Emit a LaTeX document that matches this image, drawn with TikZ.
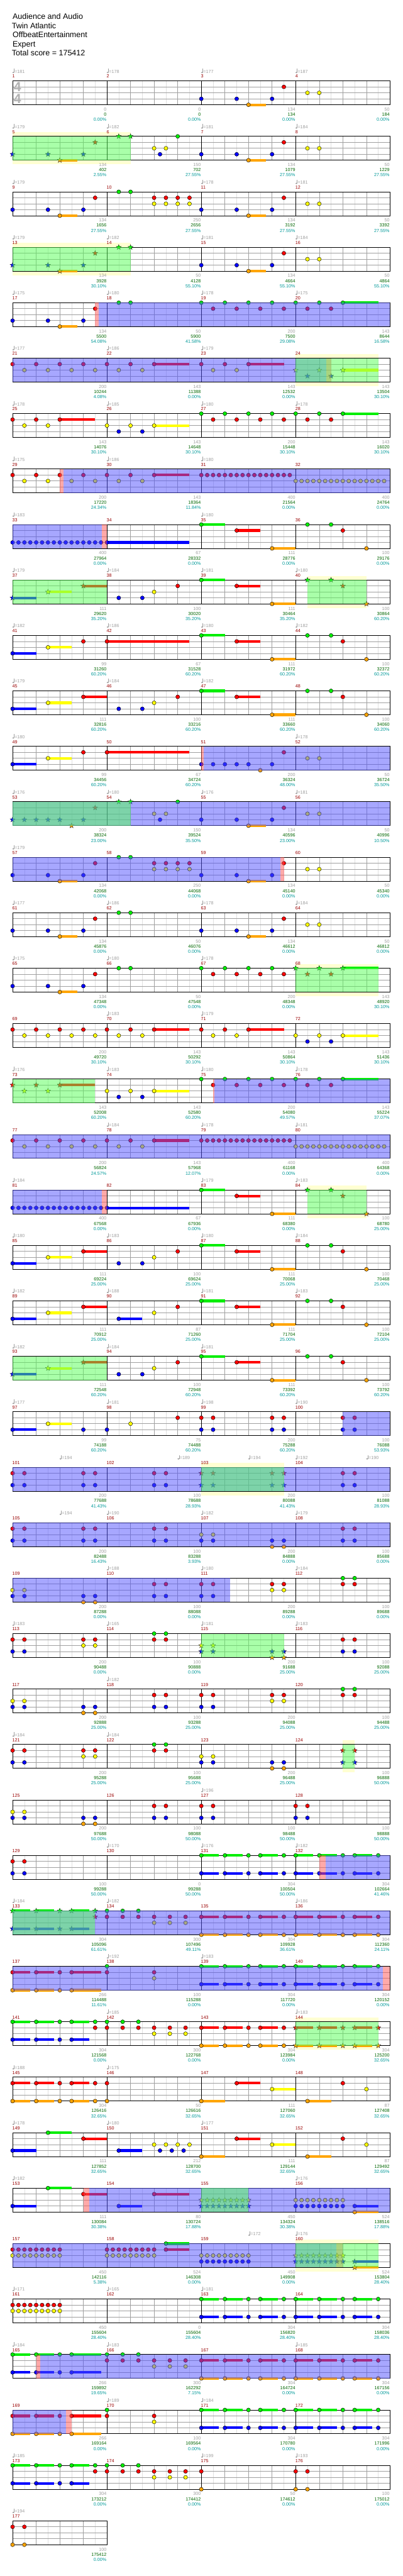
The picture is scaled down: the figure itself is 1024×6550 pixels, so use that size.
\documentclass[tikz,border=0pt]{standalone}
\usepackage{fontspec}
\setmainfont{Liberation Sans}
\usepackage{xcolor}
\definecolor{cg}{HTML}{00EE00}
\definecolor{cr}{HTML}{FF0000}
\definecolor{cy}{HTML}{FFFF00}
\definecolor{cb}{HTML}{0000FF}
\definecolor{co}{HTML}{FFA500}
\definecolor{cSP}{HTML}{5050FF}
\definecolor{cPh}{HTML}{55FF55}
\definecolor{cPk}{HTML}{FF5555}
\definecolor{cBand}{HTML}{FFFFD2}
\definecolor{cTxt}{HTML}{A0A0A0}
\definecolor{cMeas}{HTML}{990000}
\definecolor{cSum}{HTML}{006600}
\definecolor{cPct}{HTML}{009999}
\definecolor{cEighth}{HTML}{E0E0E0}
\definecolor{cQuarter}{HTML}{A0A0A0}
\definecolor{cLane}{HTML}{A0A0A0}
\def\lyg{0}\def\lyr{15.17}\def\lyy{30.35}\def\lyb{45.52}\def\lyo{60.7}
\tikzset{
  chartrow/.style={shift={(0,{205.7+141*#1})}},
  eighthln/.style={draw=cEighth,line width=.8},
  quarterln/.style={draw=cQuarter,line width=.8},
  laneln/.style={draw=cLane,line width=1.1},
  measln/.style={draw=black,line width=.9},
  staffborder/.style={draw=black,line width=1.4},
  smallfont/.style={inner sep=0,font=\fontsize{11.5}{12}\selectfont},
  tempotxt/.style={smallfont,anchor=base west,text=cTxt},
  mnum/.style={smallfont,anchor=base west,text=cMeas},
  scoretxt/.style={smallfont,anchor=base east,text=cTxt},
  totaltxt/.style={smallfont,anchor=base east,text=cSum},
  pcttxt/.style={smallfont,anchor=base east,text=cPct},
  headtxt/.style={anchor=base west,inner sep=0,font=\fontsize{20}{24}\selectfont},
}
% staff with #1 measures
\newcommand\staff[1]{%
  \pgfmathsetmacro\sw{240*#1}\pgfmathtruncatemacro\ne{8*#1-1}
  \fill[white] (32,0) rectangle ({32+\sw},60.7);
  \foreach \i in {1,3,...,\ne}{\draw[eighthln] ({32+30*\i},0) -- ({32+30*\i},60.7);}
  \foreach \i in {2,4,...,\ne}{\draw[quarterln] ({32+30*\i},0) -- ({32+30*\i},60.7);}
  \foreach \yy in {15.17,30.35,45.52}{\draw[laneln] (32,\yy) -- ({32+\sw},\yy);}
  \ifnum#1>1 \foreach \i in {8,16,24}{\draw[measln] ({32+30*\i},0) -- ({32+30*\i},60.7);}\fi
  \draw[staffborder] (32,0) rectangle ({32+\sw},60.7);}
% notes, stars, sustains
\newcommand\notedot[2]{\filldraw[fill=c#2,draw=black,line width=.7] ({32+30*(#1)},\csname ly#2\endcsname) circle[radius=5];}
\newcommand\stardot[2]{\filldraw[fill=c#2,draw=black!85,line width=.6] ({32+30*(#1)},\csname ly#2\endcsname)
  +(-90:6.8) -- +(-54:2.9) -- +(-18:6.8) -- +(18:2.9) -- +(54:6.8) -- +(90:2.9) -- +(126:6.8) -- +(162:2.9) -- +(198:6.8) -- +(234:2.9) -- cycle;}
\newcommand\nts[1]{\foreach \pos/\lane in {#1}{\notedot{\pos}{\lane}}}
\newcommand\sts[1]{\foreach \pos/\lane in {#1}{\stardot{\pos}{\lane}}}
\newcommand\seqn[4]{\foreach \spos in {#1,#2,...,#3}{\notedot{\spos}{#4}}}
\newcommand\seqs[4]{\foreach \spos in {#1,#2,...,#3}{\stardot{\spos}{#4}}}
\newcommand\sus[1]{\foreach \pos/\qend/\lane in {#1}{\fill[c\lane] ({32+30*(\pos)},{\csname ly\lane\endcsname-3.3}) rectangle ({32+30*(\qend)},{\csname ly\lane\endcsname+3.3});}}
\newcommand\patA[2]{\sus{#1/#1+1.5/#2,#1+2/#1+3.5/#2,#1+5/#1+6.5/#2}\nts{#1/#2,#1+2/#2,#1+4/#2,#1+5/#2,#1+7/#2}}
% overlays
\newcommand\spov[2]{\fill[cSP,opacity=.5] ({32+30*(#1)},0) rectangle ({32+30*(#2)},60.7);}
\newcommand\grov[2]{\fill[cPh,opacity=.5] ({32+30*(#1)},0) rectangle ({32+30*(#2)},60.7);}
\newcommand\pkov[2]{\fill[cPk,opacity=.5] ({32+30*(#1)},0) rectangle ({32+30*(#2)},60.7);}
\newcommand\band[2]{\fill[cBand] ({32+30*(#1)},-10.7) rectangle ({32+30*(#2)},71.3);}
% tempos, measure numbers, scores
\newcommand\info[3]{%
  \foreach \pos/\bpm in {#2}{%
    \fill[cTxt] ({32+30*\pos+1.8},-21.3) ellipse[x radius=2.5,y radius=1.8];
    \draw[cTxt,line width=.8] ({32+30*\pos+3.9},-21.3) -- ({32+30*\pos+3.9},-31);
    \node[tempotxt] (tempo-#1-\pos) at ({32+30*\pos+5},-20.2) {=\bpm};}
  \foreach \va/\vb/\vc [count=\j from 0] in {#3}{%
    \pgfmathtruncatemacro\mm{#1+\j}
    \node[mnum] (meas-\mm) at ({31+240*\j},-7.5) {\mm};
    \node[scoretxt] (pts-\mm) at ({31+240*(\j+1)},76.5) {\va};
    \node[totaltxt] (sum-\mm) at ({31+240*(\j+1)},89.5) {\vb};
    \node[pcttxt] (pct-\mm) at ({31+240*(\j+1)},102.5) {\vc\%};}}
\begin{document}
\begin{tikzpicture}[x=1pt,y=-1pt]
\useasboundingbox (0,0) rectangle (1024,6550);
\fill[white] (0,0) rectangle (1024,6550);
% header
\node[headtxt] (title) at (32,49.3) {Audience and Audio};
\node[headtxt] (artist) at (30,72.5) {Twin Atlantic};
\node[headtxt] (charter) at (32,95.7) {OffbeatEntertainment};
\node[headtxt] (level) at (32,118.9) {Expert};
\node[headtxt] (total) at (30,142.1) {Total score = 175412};
% m1-4
\begin{scope}[chartrow=0]
\staff{4}
\node[font=\bfseries\fontsize{34}{34}\selectfont,text=black!30,inner sep=0] (ts-top) at (44.5,14.8) {4};
\node[font=\bfseries\fontsize{34}{34}\selectfont,text=black!30,inner sep=0] (ts-bot) at (44.5,45.3) {4};
\sus{20/21.5/o}
\nts{16/b,19/b,20/o,22/b,23/r,25/y,26/y}
\info{1}{0/181,8/178,16/177,24/187}{0/0/0.00,0/0/0.00,134/134/0.00,50/184/0.00}
\end{scope}
% m5-8
\begin{scope}[chartrow=1]
\band{0}{10}\staff{4}
\sus{4/5.5/o,20/21.5/o}
\sts{0/b,3/b,4/o,6/b,7/r,9/g,10/g}
\nts{12/y,13/y,12.5/b,14/g,16/b,19/b,20/o,22/b,23/r,25/y,26/y}
\grov{0}{10}
\info{5}{0/179,8/182,16/181,24/184}{134/402/2.55,150/702/27.55,134/1079/27.55,50/1229/27.55}
\end{scope}
% m9-12
\begin{scope}[chartrow=2]
\staff{4}
\sus{4/5.5/o,20/21.5/o}
\nts{0/b,3/b,4/o,6/b,7/r,9/g,10/g,12/r,13/r,14/r,15/r,12/y,13/y,14/y,15/y,16/b,19/b,20/o,22/b,23/r,25/y,26/y}
\info{9}{0/179,16/178,24/181}{134/1656/27.55,250/2656/27.55,134/3192/27.55,50/3392/27.55}
\end{scope}
% m13-16
\begin{scope}[chartrow=3]
\band{0}{10}\staff{4}
\sus{4/5.5/o,20/21.5/o}
\sts{0/b,3/b,4/o,6/b,7/r,9/g,10/g}
\nts{16/b,19/b,20/o,22/b,23/r,25/y,26/y}
\grov{0}{10}
\info{13}{0/179,8/182,16/181,24/184}{134/3928/30.10,50/4128/55.10,134/4664/55.10,50/4864/55.10}
\end{scope}
% m17-20
\begin{scope}[chartrow=4]
\staff{4}
\sus{4/5.5/o,28/31/g}
\nts{0/b,3/b,4/o,6/b,7/r,9/g,10/g,16/g,18/g,20/g,22/g,24/g,26/g,28/g,17/r,19/r,21/r,23/r,25/r,27/r}
\pkov{7}{7.3}\spov{7.3}{32}
\info{17}{0/175,8/180,16/178,24/175}{134/5500/54.08,50/5900/41.58,200/7500/29.08,143/8644/16.58}
\end{scope}
% m21-24
\begin{scope}[chartrow=5]
\band{24}{31}\staff{4}
\sus{12/15/r,20/23/r,28/31/y}
\nts{0/r,2/r,4/r,6/r,8/r,10/r,12/r,16/r,18/r,20/r,1/y,3/y,5/y,7/y,9/y,11/y,17/y,19/y}
\sts{24/y,26/y,28/y,25/b,27/b}
\spov{0}{26.6}\pkov{26.6}{27}\grov{24}{31}
\info{21}{0/177,8/186,16/179}{200/10244/4.08,143/11388/0.00,143/12532/0.00,143/13504/30.10}
\end{scope}
% m25-28
\begin{scope}[chartrow=6]
\staff{4}
\sus{4/7/r,12/15/y,28/31/g}
\nts{0/r,2/r,4/r,1/y,3/y,8/y,10/y,12/y,9/b,11/b,16/g,18/g,20/g,22/g,24/g,26/g,28/g,17/r,19/r,21/r,23/r,25/r,27/r}
\info{25}{0/178,8/185,16/180,24/178}{143/14076/30.10,143/14648/30.10,200/15448/30.10,143/16020/30.10}
\end{scope}
% m29-32
\begin{scope}[chartrow=7]
\staff{4}
\sus{12/15/r}
\nts{0/r,2/r,4/r,1/y,3/y,5/y,7/y,9/y,11/y,6/r,8/r,10/r,12/r}
\seqn{16}{16.5}{23.5}{r}\seqn{24}{24.5}{31.5}{y}
\pkov{4}{4.3}\spov{4.3}{32}
\info{29}{0/175,8/186,16/180}{200/17220/24.34,143/18364/11.84,400/21564/0.00,400/24764/0.00}
\end{scope}
% m33-36
\begin{scope}[chartrow=8]
\staff{4}
\sus{8/15/b,16/18/g,19/21/r,22/24/o}
\seqn{0}{0.5}{7.5}{b}
\nts{8/b,16/g,19/r,22/o,25/g,27/g,28/r,30/o}
\spov{0}{7.56}\pkov{7.56}{8}
\info{33}{0/183,16/180}{400/27964/0.00,67/28332/0.00,111/28776/0.00,100/29176/0.00}
\end{scope}
% m37-40
\begin{scope}[chartrow=9]
\band{25}{30}\staff{4}
\sus{0/2/b,3/5/y,6/8/r,16/18/g,19/21/r,22/24/o}
\sts{0/b,3/y,6/r,25/g,27/g,28/r,30/o}
\nts{9/b,11/b,12/y,14/r,16/g,19/r,22/o}
\grov{0}{8}\grov{25}{30}
\info{37}{0/179,8/184,16/181,24/180}{111/29620/35.20,100/30020/35.20,111/30464/35.20,100/30864/60.20}
\end{scope}
% m41-44
\begin{scope}[chartrow=10]
\staff{4}
\sus{0/2/b,3/5/y,8/15/r,16/18/g,19/21/r,22/24/o}
\nts{0/b,3/y,6/r,8/r,16/g,19/r,22/o,25/g,27/g,28/r,30/o}
\info{41}{0/182,8/186,16/180,24/182}{99/31260/60.20,67/31528/60.20,111/31972/60.20,100/32372/60.20}
\end{scope}
% m45-48
\begin{scope}[chartrow=11]
\staff{4}
\sus{0/2/b,3/5/y,6/8/r,16/18/g,19/21/r,22/24/o}
\nts{0/b,3/y,6/r,9/b,11/b,12/y,14/r,16/g,19/r,22/o,25/g,27/g,28/r,30/o}
\info{45}{0/179,8/184,16/182}{111/32816/60.20,100/33216/60.20,111/33660/60.20,100/34060/60.20}
\end{scope}
% m49-52
\begin{scope}[chartrow=12]
\staff{4}
\sus{0/2/b,3/5/y,8/15/r}
\nts{0/b,3/y,6/r,8/r,16/b,17/b,18/b,19/b,20/b,22/b,21/o,23/r,25/y,26/y}
\pkov{16}{16.2}\spov{16.2}{32}
\info{49}{0/180,24/178}{99/34456/60.20,67/34724/60.20,200/36324/48.00,50/36724/35.50}
\end{scope}
% m53-56
\begin{scope}[chartrow=13]
\staff{4}
\sus{20/21.5/o}
\sts{0/b,1/b,2/b,3/b,4/b,6/b,5/o,7/r,9/g,10/g}
\nts{12/y,13/y,12.5/b,14/g,16/b,19/b,22/b,20/o,23/r,25/y,26/y}
\spov{0}{32}\grov{0}{10}
\info{53}{0/176,8/180,16/176,24/181}{200/38324/23.00,150/39524/35.50,134/40596/23.00,50/40996/10.50}
\end{scope}
% m57-60
\begin{scope}[chartrow=14]
\staff{4}
\sus{4/5.5/o,20/21.5/o}
\nts{0/b,3/b,4/o,6/b,7/r,9/g,10/g,12/r,13/r,14/r,15/r,12/y,13/y,14/y,15/y,16/b,19/b,20/o,22/b,23/r,25/y,26/y}
\spov{0}{22.72}\pkov{22.72}{23}
\info{57}{0/179}{134/42068/0.00,250/44068/0.00,134/45140/0.00,50/45340/0.00}
\end{scope}
% m61-64
\begin{scope}[chartrow=15]
\staff{4}
\sus{4/5.5/o,20/21.5/o}
\nts{0/b,3/b,4/o,6/b,7/r,9/g,10/g,16/b,19/b,20/o,22/b,23/r,25/y,26/y}
\info{61}{0/177,8/186,16/178,24/184}{134/45876/0.00,50/46076/0.00,134/46612/0.00,50/46812/0.00}
\end{scope}
% m65-68
\begin{scope}[chartrow=16]
\band{24}{31}\staff{4}
\sus{4/5.5/o,28/31/g}
\nts{0/b,3/b,4/o,6/b,7/r,9/g,10/g,16/g,18/g,20/g,22/g,17/r,19/r,21/r,23/r}
\sts{24/g,26/g,28/g,25/r,27/r}
\grov{24}{31}
\info{65}{0/175,8/180,16/178}{134/47348/0.00,50/47548/0.00,200/48348/0.00,143/48920/30.10}
\end{scope}
% m69-72
\begin{scope}[chartrow=17]
\staff{4}
\sus{12/15/r,20/23/r,28/31/y}
\nts{0/r,2/r,4/r,6/r,8/r,10/r,12/r,1/y,3/y,5/y,7/y,9/y,11/y,16/r,18/r,20/r,17/y,19/y,24/y,26/y,28/y,25/b,27/b}
\info{69}{8/183,16/179}{200/49720/30.10,143/50292/30.10,143/50864/30.10,143/51436/30.10}
\end{scope}
% m73-76
\begin{scope}[chartrow=18]
\staff{4}
\sus{4/7/r,12/15/y,28/31/g}
\sts{0/r,2/r,4/r,1/y,3/y}
\nts{8/y,10/y,12/y,9/b,11/b,16/g,17/r,18/g,20/g,22/g,24/g,26/g,28/g,19/r,21/r,23/r,25/r,27/r}
\grov{0}{7}\pkov{17}{17.13}\spov{17.13}{32}
\info{73}{0/176,8/183,16/180,24/178}{143/52008/60.20,143/52580/60.20,200/54080/49.57,143/55224/37.07}
\end{scope}
% m77-80
\begin{scope}[chartrow=19]
\staff{4}
\sus{12/15/r}
\nts{0/r,2/r,4/r,6/r,8/r,10/r,12/r,1/y,3/y,5/y,7/y,9/y,11/y}
\seqn{16}{16.5}{23.5}{r}\seqn{24}{24.5}{31.5}{y}
\spov{0}{32}
\info{77}{8/184,16/178,24/181}{200/56824/24.57,143/57968/12.07,400/61168/0.00,400/64368/0.00}
\end{scope}
% m81-84
\begin{scope}[chartrow=20]
\band{25}{30}\staff{4}
\sus{8/15/b,16/18/g,19/21/r,22/24/o}
\seqn{0}{0.5}{7.5}{b}
\nts{8/b,16/g,19/r,22/o}
\sts{25/g,27/g,28/r,30/o}
\spov{0}{7.56}\pkov{7.56}{8}\grov{25}{30}
\info{81}{0/184,16/179,24/183}{400/67568/0.00,67/67936/0.00,111/68380/0.00,100/68780/25.00}
\end{scope}
% m85-88
\begin{scope}[chartrow=21]
\staff{4}
\sus{0/2/b,3/5/y,6/8/r,16/18/g,19/21/r,22/24/o}
\nts{0/b,3/y,6/r,9/b,11/b,12/y,14/r,16/g,19/r,22/o,25/g,27/g,28/r,30/o}
\info{85}{0/180,8/183,16/180,24/184}{111/69224/25.00,100/69624/25.00,111/70068/25.00,100/70468/25.00}
\end{scope}
% m89-92
\begin{scope}[chartrow=22]
\staff{4}
\sus{0/2/b,3/5/y,6/8/r,9/11/b,16/18/g,19/21/r,22/24/o}
\nts{0/b,3/y,6/r,9/b,12/y,14/r,16/g,19/r,22/o,25/g,27/g,28/r,30/o}
\info{89}{0/182,8/188,16/181,24/183}{111/70912/25.00,87/71260/25.00,111/71704/25.00,100/72104/25.00}
\end{scope}
% m93-96
\begin{scope}[chartrow=23]
\staff{4}
\sus{0/2/b,3/5/y,6/8/r,16/18/g,19/21/r,22/24/o}
\sts{0/b,3/y,6/r}
\nts{9/b,11/b,12/y,14/r,16/g,19/r,22/o,25/g,27/g,28/r,30/o}
\grov{0}{8}
\info{93}{0/182,8/184,16/181}{111/72548/60.20,100/72948/60.20,111/73392/60.20,100/73792/60.20}
\end{scope}
% m97-100
\begin{scope}[chartrow=24]
\staff{4}
\sus{0/2/b,3/5/y}
\nts{0/b,3/y,6/b,8/b,10/y,14/r,16/r,17/r,16/b,17/b,22/r,23/r,22/b,23/b,28/r,29/r,28/b,29/b}
\spov{28}{32}
\info{97}{0/177,8/181,16/198,24/190}{99/74188/60.20,75/74488/60.20,200/75288/60.20,100/76088/53.93}
\end{scope}
% m101-104
\begin{scope}[chartrow=25]
\band{16}{23}\staff{4}
\nts{0/r,1/r,6/r,7/r,12/r,13/r,28/r,29/r,0/b,1/b,6/b,7/b,12/b,13/b,28/b,29/b}
\sts{16/r,17/r,22/r,23/r,16/b,17/b,22/b,23/b}
\spov{0}{32}\grov{16}{23}
\info{101}{4/194,14/189,20/194,24/192,30/190}{200/77688/41.43,100/78688/28.93,200/80088/41.43,100/81088/28.93}
\end{scope}
% m105-108
\begin{scope}[chartrow=26]
\staff{4}
\nts{0/r,1/r,6/r,7/r,12/r,13/r,28/r,29/r,0/b,1/b,6/b,7/b,12/b,13/b,16/b,17/b,22/b,23/b,28/b,29/b,16/y,17/y,22/o,23/o}
\spov{0}{32}
\info{105}{4/194,8/190,16/182,24/179}{200/82488/16.43,100/83288/3.93,200/84888/0.00,100/85688/0.00}
\end{scope}
% m109-112
\begin{scope}[chartrow=27]
\staff{4}
\nts{0/y,1/y,0/b,1/b,6/b,7/b,6/o,7/o,12/r,13/r,12/b,13/b,16/r,17/r,16/b,17/b,22/r,23/r,22/y,23/y,28/g,29/g,28/r,29/r}
\spov{0}{18.46}
\info{109}{8/188,16/180,24/184}{200/87288/0.00,100/88088/0.00,200/89288/0.00,100/89688/0.00}
\end{scope}
% m113-116
\begin{scope}[chartrow=28]
\staff{4}
\nts{0/r,1/r,0/b,1/b,6/r,7/r,6/y,7/y,12/g,13/g,12/r,13/r,28/r,29/r,28/b,29/b}
\sts{16/y,17/y,16/b,17/b,22/b,23/b,22/o,23/o}
\grov{16}{23}
\info{113}{0/183,8/165,16/181,24/183}{200/90488/0.00,100/90888/0.00,200/91688/25.00,100/92088/25.00}
\end{scope}
% m117-120
\begin{scope}[chartrow=29]
\staff{4}
\nts{0/y,1/y,0/b,1/b,6/b,7/b,6/o,7/o,12/r,13/r,12/b,13/b,16/r,17/r,16/b,17/b,22/r,23/r,22/y,23/y,28/g,29/g,28/r,29/r}
\info{117}{8/182}{200/92888/25.00,100/93288/25.00,200/94088/25.00,100/94488/25.00}
\end{scope}
% m121-124
\begin{scope}[chartrow=30]
\band{28}{29}\staff{4}
\nts{0/r,1/r,0/b,1/b,6/r,7/r,6/y,7/y,12/g,13/g,12/r,13/r,16/y,17/y,16/b,17/b,22/b,23/b,22/o,23/o}
\sts{28/r,29/r,28/b,29/b}
\grov{28}{29}
\info{121}{0/184,8/184}{200/95288/25.00,100/95688/25.00,200/96488/25.00,100/96888/50.00}
\end{scope}
% m125-128
\begin{scope}[chartrow=31]
\staff{4}
\nts{0/y,1/y,0/b,1/b,6/b,7/b,6/o,7/o,12/r,13/r,12/b,13/b,16/r,17/r,16/b,17/b,24/r,25/r,24/b,25/b}
\info{125}{16/196}{200/97688/50.00,100/98088/50.00,100/98488/50.00,100/98888/50.00}
\end{scope}
% m129-132
\begin{scope}[chartrow=32]
\staff{4}
\nts{0/r,1/r,0/b,1/b}
\patA{16}{g}\patA{24}{g}\patA{16}{b}\patA{24}{b}
\pkov{26}{26.53}\spov{26.53}{32}
\info{129}{8/170,16/176,24/182}{100/99288/50.00,0/99288/50.00,304/100504/50.00,304/102664/41.46}
\end{scope}
% m133-136
\begin{scope}[chartrow=33]
\staff{4}
\sus{0/1.5/g,2/3.5/g,5/6.5/g,0/1.5/b,2/3.5/b,5/6.5/b}
\sts{0/g,2/g,4/g,5/g,7/g,0/b,2/b,4/b,5/b,7/r}
\nts{8/g,9.333/g,10.667/g,8/r,9.333/r,10.667/r,12/r,13.333/r,14.667/r,12/y,13.333/y,14.667/y}
\patA{16}{r}\patA{24}{r}\patA{16}{o}\patA{24}{o}
\spov{0}{32}\grov{0}{7}
\info{133}{0/184,8/182,24/186}{304/105096/61.61,300/107496/49.11,304/109928/36.61,304/112360/24.11}
\end{scope}
% m137-140
\begin{scope}[chartrow=34]
\staff{4}
\sus{0/1.5/r,2/3.5/r,5/7.5/r,0/1.5/o,2/3.5/o,5/7.5/o}
\nts{0/r,2/r,4/r,5/r,0/o,2/o,4/o,5/o,8/g,8/r,12/r,12/y}
\patA{16}{g}\patA{24}{g}\patA{16}{b}\patA{24}{b}
\spov{0}{31.4}\pkov{31.4}{32}
\info{137}{8/192,16/183}{266/114488/11.61,100/115288/0.00,304/117720/0.00,304/120152/0.00}
\end{scope}
% m141-144
\begin{scope}[chartrow=35]
\band{24}{31}\staff{4}
\sus{0/1.5/g,2/3.5/g,5/6.5/g,0/1.5/b,2/3.5/b,5/6.5/b}
\nts{0/g,2/g,4/g,5/g,7/g,8/g,9.333/g,10.667/g,0/b,2/b,4/b,5/b,7/r,8/r,9.333/r,10.667/r,12/r,13.333/r,14.667/r,12/y,13.333/y,14.667/y}
\patA{16}{r}\patA{16}{o}
\sus{24/25.5/r,26/27.5/r,29/30.5/r,24/25.5/o,26/27.5/o,29/30.5/o}
\sts{24/r,26/r,28/r,29/r,31/r,24/o,26/o,28/o,29/o,31/o}
\grov{24}{31}
\info{141}{8/185,24/183}{304/121568/0.00,300/122768/0.00,304/123984/0.00,304/125200/32.65}
\end{scope}
% m145-148
\begin{scope}[chartrow=36]
\staff{4}
\sus{0/1.5/r,2/3.5/r,5/6.5/r,0/1.5/o,2/3.5/o,5/6.5/o,16/18/o,19/21/r,22/24/y,25/27/o}
\nts{0/r,2/r,4/r,5/r,7/r,8/r,0/o,2/o,4/o,5/o,7/o,8/o,16/o,19/r,22/y,25/o,28/r,30/y}
\info{145}{0/188,8/175}{304/126416/32.65,50/126616/32.65,111/127060/32.65,87/127408/32.65}
\end{scope}
% m149-152
\begin{scope}[chartrow=37]
\staff{4}
\sus{0/2/b,3/5/g,6/8/r,9/11/b,16/18/o,19/21/r,22/24/y,25/27/o}
\nts{0/b,3/g,6/r,9/b,12/y,13/y,14/y,15/y,12.5/b,13.5/b,14.5/b,16/o,19/r,22/y,25/o,28/r,30/y}
\info{149}{0/178,8/180,16/177}{111/127852/32.65,212/128700/32.65,111/129144/32.65,87/129492/32.65}
\end{scope}
% m153-156
\begin{scope}[chartrow=38]
\staff{4}
\sus{0/2/b,3/5/g,6/8/r,9/11/b,12/15/r,29/31/b,29/31/o}
\nts{0/b,3/g,6/r,9/b,12/r}
\seqs{16}{16.5}{20}{y}\seqs{16}{16.5}{20}{b}
\seqn{24}{24.5}{28}{y}\seqn{24}{24.5}{28}{b}
\nts{29/b,29/o}
\pkov{6}{6.5}\spov{6.5}{32}\grov{16}{20}
\info{153}{0/182,24/176}{111/130084/30.38,80/130724/17.88,450/134324/30.38,524/138516/17.88}
\end{scope}
% m157-160
\begin{scope}[chartrow=39]
\band{24}{31}\staff{4}
\sus{13/15/g,13/15/r,29/31/b,29/31/o}
\seqn{0}{0.5}{4}{r}\seqn{0}{0.5}{4}{y}\seqn{8}{8.5}{12}{r}\seqn{8}{8.5}{12}{y}
\nts{13/g,13/r}
\seqn{16}{16.5}{20}{y}\seqn{16}{16.5}{20}{b}
\seqs{24}{24.5}{28}{y}\seqs{24}{24.5}{28}{b}
\sts{29/b,29/o}
\spov{0}{27.43}\pkov{27.43}{28}\grov{24}{31}
\info{157}{20/172,24/176}{450/142116/5.38,524/146308/0.00,450/149908/0.00,524/153804/28.40}
\end{scope}
% m161-164
\begin{scope}[chartrow=40]
\staff{4}
\seqn{0}{0.5}{4}{r}\seqn{0}{0.5}{4}{y}
\patA{16}{g}\patA{24}{g}\patA{16}{b}\patA{24}{b}
\info{161}{0/171,8/165,16/181}{450/155604/28.40,0/155604/28.40,304/156820/28.40,304/158036/28.40}
\end{scope}
% m165-168
\begin{scope}[chartrow=41]
\staff{4}
\sus{0/1.5/g,2/3.5/g,5/7.5/g,0/1.5/b,2/3.5/b,5/7.5/b}
\nts{0/g,2/g,4/g,5/g,8/g,9.333/g,10.667/g,0/b,2/b,4/b,5/b,8/r,9.333/r,10.667/r,12/r,13.333/r,14.667/r,12/y,13.333/y,14.667/y}
\patA{16}{r}\patA{24}{r}\patA{16}{o}\patA{24}{o}
\pkov{2}{2.33}\spov{2.33}{32}
\info{165}{0/184,8/183,24/185}{266/159892/19.65,300/162292/7.15,304/164724/0.00,304/167156/0.00}
\end{scope}
% m169-172
\begin{scope}[chartrow=42]
\staff{4}
\sus{0/1.5/r,2/3.5/r,5/7.5/r,0/1.5/o,2/3.5/o,5/7.5/o}
\nts{0/r,2/r,4/r,5/r,0/o,2/o,4/o,5/o,8/g,8/r,12/r,12/y}
\patA{16}{g}\patA{24}{g}\patA{16}{b}\patA{24}{b}
\spov{0}{4.55}\pkov{4.55}{5}
\info{169}{8/189,16/184}{266/169164/0.00,100/169564/0.00,304/170780/0.00,304/171996/0.00}
\end{scope}
% m173-176
\begin{scope}[chartrow=43]
\staff{4}
\sus{0/1.5/g,2/3.5/g,5/6.5/g,0/1.5/b,2/3.5/b,5/6.5/b}
\nts{0/g,2/g,4/g,5/g,7/g,8/g,9.333/g,10.667/g,0/b,2/b,4/b,5/b,7/r,8/r,9.333/r,10.667/r,12/r,13.333/r,14.667/r,16/r,12/y,13.333/y,14.667/y,16/o,24/r,25/r,24/o,25/o}
\info{173}{0/185,16/199,24/193}{304/173212/0.00,300/174412/0.00,50/174612/0.00,100/175012/0.00}
\end{scope}
% m177
\begin{scope}[chartrow=44]
\staff{1}
\nts{0/r,1/r,0/o,1/o}
\info{177}{0/194}{100/175412/0.00}
\end{scope}
\end{tikzpicture}
\end{document}
